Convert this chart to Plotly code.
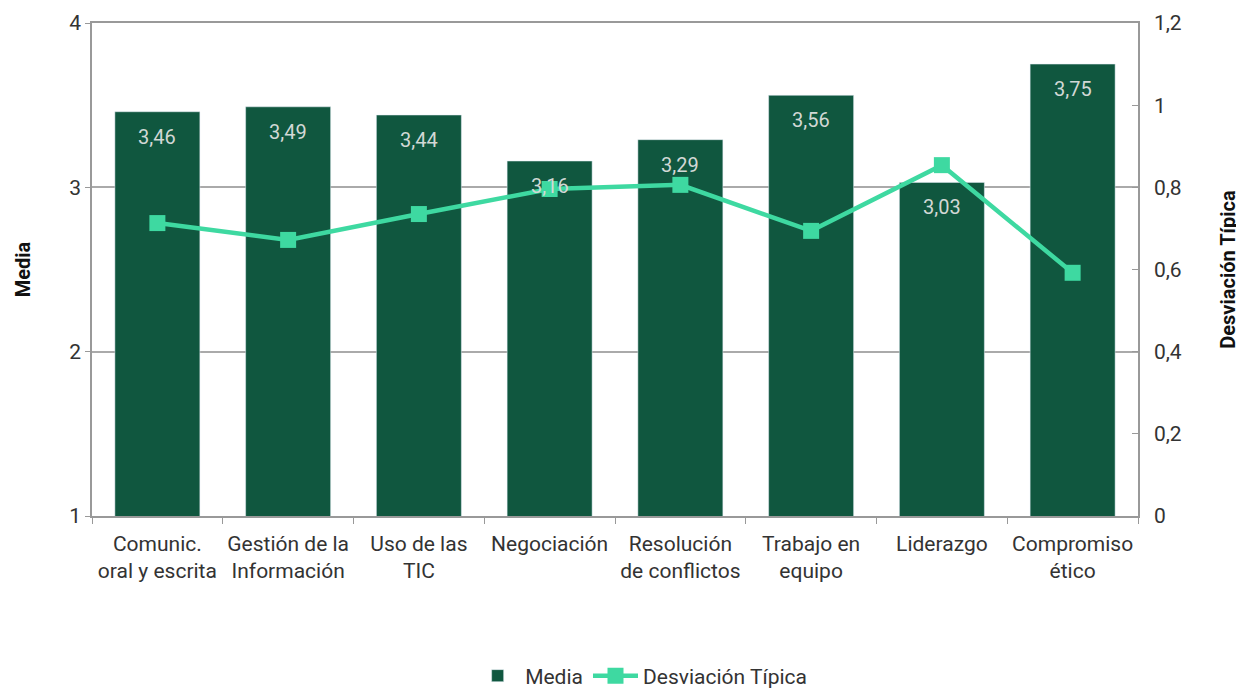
import plotly.graph_objects as go

categories = ["Comunic.<br>oral y escrita", "Gestión de la<br>Información", "Uso de las<br>TIC",
              "Negociación", "Resolución<br>de conflictos", "Trabajo en<br>equipo",
              "Liderazgo", "Compromiso<br>ético"]
media = [3.46, 3.49, 3.44, 3.16, 3.29, 3.56, 3.03, 3.75]
desviacion = [0.713, 0.672, 0.735, 0.796, 0.806, 0.694, 0.854, 0.592]
media_labels = ["3,46", "3,49", "3,44", "3,16", "3,29", "3,56", "3,03", "3,75"]

BAR = "#10573F"
LINE = "#3ED9A1"
FONT = "Roboto"
TXT = "#333333"

fig = go.Figure()
fig.add_trace(go.Bar(
    x=categories, y=media, name="Media", marker_color=BAR, width=0.65,
))
fig.add_trace(go.Scatter(
    x=categories, y=desviacion, name="Desviación Típica", yaxis="y2",
    mode="lines+markers", line=dict(color=LINE, width=4.5),
    marker=dict(symbol="square", size=16, color=LINE),
))

annotations = [
    dict(x=c, y=v, xref="x", yref="y", text=t, showarrow=False, yanchor="middle",
         yshift=-25, font=dict(family=FONT, size=20, color="#D2D8D5"))
    for c, v, t in zip(categories, media, media_labels)
]

fig.update_layout(
    width=1244, height=689,
    margin=dict(l=84, r=114, t=15, b=181, autoexpand=False),
    plot_bgcolor="white", paper_bgcolor="white",
    separators=", ",
    font=dict(family=FONT, size=21, color=TXT),
    showlegend=True,
    legend=dict(orientation="h", x=0.525, xanchor="center", y=-0.3245, yanchor="middle",
                font=dict(size=21, color=TXT), itemwidth=45),
    annotations=annotations,
    xaxis=dict(showline=True, linecolor="#999999", linewidth=1.5, mirror=True, automargin=False,
               ticks="outside", tickson="boundaries", ticklen=6, tickcolor="#999999",
               ticklabelstandoff=8,
               tickangle=0, tickfont=dict(size=21, color=TXT)),
    yaxis=dict(range=[1, 4], dtick=1, showgrid=True, gridcolor="#AAAAAA", gridwidth=1.5,
               showline=True, linecolor="#999999", linewidth=1.5, zeroline=False, automargin=False,
               ticks="outside", ticklen=5, tickcolor="#999999",
               title=dict(text="<b>Media</b>", font=dict(size=20, color="#111111"), standoff=33),
               tickfont=dict(size=21, color=TXT)),
    yaxis2=dict(range=[0, 1.2], dtick=0.2, overlaying="y", side="right", showgrid=False,
                showline=True, linecolor="#999999", linewidth=1.5, zeroline=False, automargin=False,
                ticks="inside", ticklen=6, tickcolor="#999999", ticklabelstandoff=10,
                title=dict(text="<b>Desviación Típica</b>", font=dict(size=20, color="#111111"), standoff=40),
                tickfont=dict(size=21, color=TXT)),
)

fig.write_html("out.html")
